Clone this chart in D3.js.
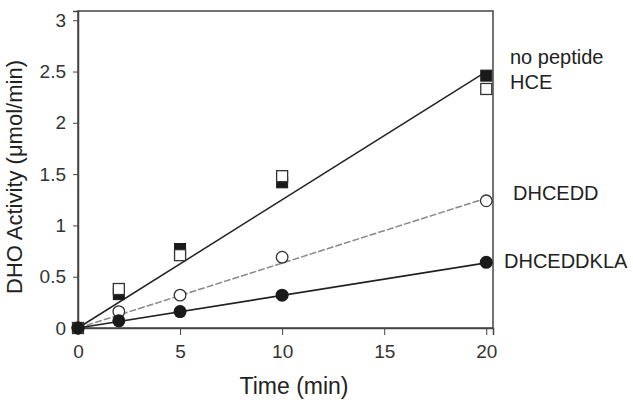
<!DOCTYPE html>
<html><head><meta charset="utf-8">
<script src="https://cdn.jsdelivr.net/npm/d3@7"></script>
<style>body{margin:0;background:#fff}svg{display:block}</style>
</head><body>
<svg id="c" width="633" height="405"></svg>
<script>
const times = [0, 2, 5, 10, 20];
const noPeptide = [0, 0.33, 0.77, 1.42, 2.46];
const hce = [0, 0.38, 0.71, 1.48, 2.33];
const dhcedd = [0, 0.16, 0.32, 0.69, 1.24];
const dhceddkla = [0, 0.07, 0.16, 0.32, 0.64];
const fitTimes = [0, 20];
const fitSquares = [0, 2.5];
const fitDhcedd = [0, 1.265];
const fitDhceddkla = [0, 0.635];
const xTicks = [0, 5, 10, 15, 20];
const yTicks = [0, 0.5, 1, 1.5, 2, 2.5, 3];
const seriesLabels = ["no peptide", "HCE", "DHCEDD", "DHCEDDKLA"];

const svg = d3.select("#c");
const L = 78, R = 493, T = 11, B = 328;
const x = d3.scaleLinear().domain([0, 20.33]).range([L, R]);
const y = d3.scaleLinear().domain([0, 3.09]).range([B, T]);
const axisColor = "#444";
const tickFont = "'Liberation Sans Narrow','Arial Narrow','Liberation Sans',Arial,sans-serif";
const font = "'Liberation Sans',Arial,sans-serif";

// frame
svg.append("rect").attr("x", L).attr("y", T).attr("width", R - L).attr("height", B - T)
  .attr("fill", "none").attr("stroke", axisColor).attr("stroke-width", 1.5);

const xAxis = svg.append("g").attr("transform", `translate(0,${B})`)
  .call(d3.axisBottom(x).tickValues(xTicks).tickSize(7).tickPadding(10).tickFormat(d3.format("d")));
const yAxis = svg.append("g").attr("transform", `translate(${L},0)`)
  .call(d3.axisLeft(y).tickValues(yTicks).tickSize(5).tickPadding(7).tickFormat(d => String(d)));
[xAxis, yAxis].forEach(g => {
  g.select(".domain").attr("stroke", axisColor).attr("stroke-width", 1.5);
  g.selectAll(".tick line").attr("stroke", axisColor).attr("stroke-width", 1);
  g.selectAll(".tick text").attr("fill", "#333").style("font-family", tickFont).style("font-size", "19px");
});

// fit lines
const line = d3.line().x((d, i) => x(fitTimes[i])).y(d => y(d));
svg.append("path").datum(fitSquares).attr("d", line).attr("fill", "none")
  .attr("stroke", "#222").attr("stroke-width", 1.5);
svg.append("path").datum(fitDhcedd).attr("d", line).attr("fill", "none")
  .attr("stroke", "#888").attr("stroke-width", 1.5).attr("stroke-dasharray", "7,2");
svg.append("path").datum(fitDhceddkla).attr("d", line).attr("fill", "none")
  .attr("stroke", "#222").attr("stroke-width", 1.6);

// markers
const sq = 11;
svg.append("g").selectAll("rect").data(noPeptide).join("rect")
  .attr("x", (d, i) => x(times[i]) - sq / 2).attr("y", d => y(d) - sq / 2)
  .attr("width", sq).attr("height", sq).attr("fill", "#1a1a1a").attr("stroke", "#1a1a1a").attr("stroke-width", 1);
svg.append("g").selectAll("rect").data(hce).join("rect")
  .attr("x", (d, i) => x(times[i]) - sq / 2).attr("y", d => y(d) - sq / 2)
  .attr("width", sq).attr("height", sq).attr("fill", "#fff").attr("stroke", "#333").attr("stroke-width", 1.3);
svg.append("g").selectAll("circle").data(dhcedd).join("circle")
  .attr("cx", (d, i) => x(times[i])).attr("cy", d => y(d)).attr("r", 5.8)
  .attr("fill", "#fff").attr("stroke", "#333").attr("stroke-width", 1.3);
svg.append("g").selectAll("circle").data(dhceddkla).join("circle")
  .attr("cx", (d, i) => x(times[i])).attr("cy", d => y(d)).attr("r", 6.5)
  .attr("fill", "#1a1a1a");

// series labels
const labelPos = [[510, 64], [510, 89], [513, 200], [504, 268]];
svg.append("g").selectAll("text").data(seriesLabels).join("text")
  .attr("x", (d, i) => labelPos[i][0]).attr("y", (d, i) => labelPos[i][1])
  .attr("fill", "#222").style("font-family", font).style("font-size", "20px").text(d => d);

// axis titles
svg.append("text").attr("x", 294).attr("y", 394).attr("text-anchor", "middle")
  .attr("fill", "#222").style("font-family", font).style("font-size", "23px").text("Time (min)");
svg.append("text").attr("transform", "translate(22,177) rotate(-90)").attr("text-anchor", "middle")
  .attr("fill", "#222").style("font-family", font).style("font-size", "22px").text("DHO Activity (μmol/min)");
</script>
</body></html>
